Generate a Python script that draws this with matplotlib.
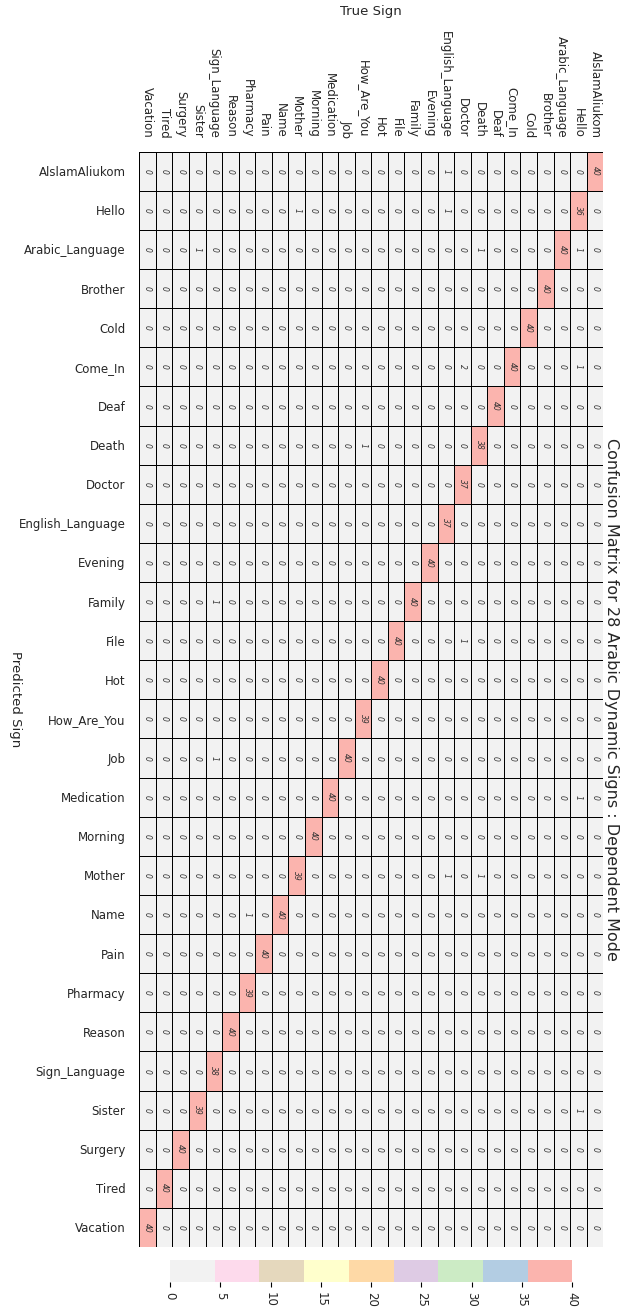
import matplotlib
matplotlib.use("Agg")
import matplotlib.pyplot as plt
import numpy as np

# predicted classes, top to bottom
pred_labels = [
    "AlslamAliukom", "Hello", "Arabic_Language", "Brother", "Cold", "Come_In",
    "Deaf", "Death", "Doctor", "English_Language", "Evening", "Family", "File",
    "Hot", "How_Are_You", "Job", "Medication", "Morning", "Mother", "Name",
    "Pain", "Pharmacy", "Reason", "Sign_Language", "Sister", "Surgery",
    "Tired", "Vacation",
]
# true classes, left to right
true_labels = pred_labels[::-1]

# correct predictions per class (same order as pred_labels)
diag_counts = [40, 36, 40, 40, 40, 40, 40, 38, 37, 37, 40, 40, 40, 40,
               39, 40, 40, 40, 39, 40, 40, 39, 40, 38, 39, 40, 40, 40]

# off-diagonal entries: (predicted, true, count)
errors = [
    ("AlslamAliukom", "English_Language", 1),
    ("Hello", "Mother", 1),
    ("Hello", "English_Language", 1),
    ("Arabic_Language", "Sister", 1),
    ("Arabic_Language", "Death", 1),
    ("Arabic_Language", "Hello", 1),
    ("Come_In", "Doctor", 2),
    ("Come_In", "Hello", 1),
    ("Death", "How_Are_You", 1),
    ("Family", "Sign_Language", 1),
    ("File", "Doctor", 1),
    ("Job", "Sign_Language", 1),
    ("Medication", "Hello", 1),
    ("Mother", "English_Language", 1),
    ("Mother", "Death", 1),
    ("Name", "Pharmacy", 1),
    ("Sister", "Hello", 1),
]

cbar_ticks = [0, 5, 10, 15, 20, 25, 30, 35, 40]

n = len(pred_labels)
cm = np.zeros((n, n), dtype=int)
for i, lab in enumerate(pred_labels):
    cm[i, true_labels.index(lab)] = diag_counts[i]
for p, t, c in errors:
    cm[pred_labels.index(p), true_labels.index(t)] = c

TEXT = "#262626"
W, H = 631, 1312
fig = plt.figure(figsize=(W / 100, H / 100), dpi=100)

ax = fig.add_axes([139.3 / W, 1 - 1247 / H, 464 / W, (1247 - 151.7) / H])
mesh = ax.pcolormesh(cm, cmap="Pastel1_r", vmin=0, vmax=40,
                     edgecolors="black", linewidth=0.4)
ax.set_xlim(0, n)
ax.set_ylim(n, 0)
for i in range(n):
    for j in range(n):
        ax.text(j + 0.5, i + 0.5, str(cm[i, j]), ha="center", va="center",
                rotation=-90, fontsize=5.5, style="italic", color="#333333")

ax.xaxis.tick_top()
ax.set_xticks(np.arange(n) + 0.5)
ax.set_xticklabels(true_labels, rotation=-90, va="bottom", ha="center",
                   fontsize=8.5, color=TEXT)
ax.set_yticks(np.arange(n) + 0.5)
ax.set_yticklabels(pred_labels, fontsize=8.5, color=TEXT)
ax.tick_params(length=0, pad=10)
for s in ax.spines.values():
    s.set_visible(False)

cax = fig.add_axes([170 / W, 1 - 1282.3 / H, 402.3 / W, 22.3 / H])
cb = fig.colorbar(mesh, cax=cax, orientation="horizontal", ticks=cbar_ticks)
cb.outline.set_linewidth(0)
cax.tick_params(labelsize=8.5, labelcolor=TEXT)
for lbl in cax.get_xticklabels():
    lbl.set_rotation(-90)
    lbl.set_va("top")

fig.text(371.3 / W, 1 - 12 / H, "True Sign", ha="center", va="center",
         fontsize=9.5, color=TEXT)
fig.text(15 / W, 1 - 699 / H, "Predicted Sign", ha="center", va="center",
         rotation=-90, fontsize=9.5, color=TEXT)
fig.text(612 / W, 1 - 699 / H,
         "Confusion Matrix for 28 Arabic Dynamic Signs : Dependent Mode",
         ha="center", va="center", rotation=-90, fontsize=11.5, color=TEXT)

fig.savefig("out.png", dpi=100)
